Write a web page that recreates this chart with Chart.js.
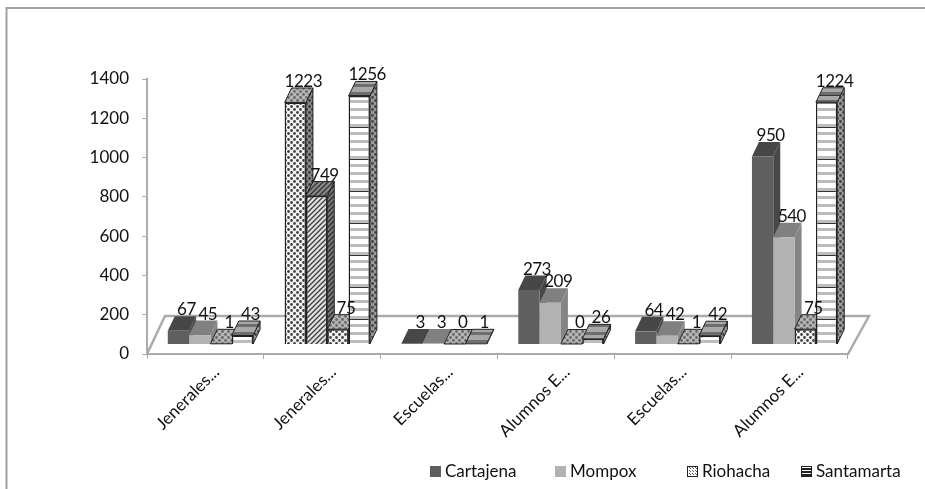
<!DOCTYPE html>
<html>
<head>
<meta charset="utf-8">
<title>Escuelas y alumnos</title>
<script src="https://cdn.jsdelivr.net/npm/chart.js@4"></script>
<style>
    html, body { margin: 0; padding: 0; background: #fff; }
    #wrap { position: relative; width: 925px; height: 489px; overflow: hidden; }
</style>
</head>
<body>
<div id="wrap"><canvas id="barChart" width="925" height="489"></canvas></div>
<script>
const categories = ['Jenerales...', 'Jenerales...', 'Escuelas...', 'Alumnos E...', 'Escuelas...', 'Alumnos E...'];
const seriesNames = ['Cartajena', 'Mompox', 'Riohacha', 'Santamarta'];
const cartajena = [67, 1223, 3, 273, 64, 950];
const mompox = [45, 749, 3, 209, 42, 540];
const riohacha = [1, 75, 0, 0, 1, 75];
const santamarta = [43, 1256, 1, 26, 42, 1224];
const yTicks = [0, 200, 400, 600, 800, 1000, 1200, 1400];

// which fill each bar uses, per series
const fillNames = [
    ['dark', 'dots', 'dark', 'dark', 'dark', 'dark'],
    ['light', 'hatch', 'light', 'light', 'light', 'light'],
    ['dots', 'dots', 'dots', 'dots', 'dots', 'dots'],
    ['stripes', 'stripes', 'stripes', 'stripes', 'stripes', 'stripes']
];

const FONT = 'Lato, "Open Sans", sans-serif';
const DEPTH_X = 7;
const DEPTH_Y = 14.5;
const BAR_SHIFT = 5;
const AXIS_GREY = '#ababab';
const LEGEND_BOX_X = [430, 555, 687, 801];
const LEGEND_Y = 472;

function makePattern(w, h, paint) {
    const c = document.createElement('canvas');
    c.width = w;
    c.height = h;
    paint(c.getContext('2d'));
    return c.getContext('2d').createPattern(c, 'repeat');
}

function dotPattern(bg, dot) {
    return makePattern(6, 6, g => {
        g.fillStyle = bg;
        g.fillRect(0, 0, 6, 6);
        g.fillStyle = dot;
        [[1.5, 1.5], [4.5, 4.5]].forEach(p => {
            g.beginPath();
            g.arc(p[0], p[1], 1.4, 0, Math.PI * 2);
            g.fill();
        });
    });
}

function hatchPattern(bg, line) {
    return makePattern(5, 5, g => {
        g.fillStyle = bg;
        g.fillRect(0, 0, 5, 5);
        g.strokeStyle = line;
        g.lineWidth = 1.3;
        g.beginPath();
        g.moveTo(-1, 6); g.lineTo(6, -1);
        g.moveTo(-1, 1); g.lineTo(1, -1);
        g.moveTo(4, 6); g.lineTo(6, 4);
        g.stroke();
    });
}

function stripePattern(bg, band, line) {
    return makePattern(4, 32, g => {
        g.fillStyle = bg;
        g.fillRect(0, 0, 4, 32);
        g.fillStyle = band;
        for (let y = 0; y < 32; y += 8) g.fillRect(0, y + 4, 4, 3);
        g.fillStyle = line;
        g.fillRect(0, 31, 4, 1);
    });
}

const fills = {
    dark: { front: '#5f5f5f', top: '#474747', side: '#474747', border: 0 },
    light: { front: '#b2b2b2', top: '#808080', side: '#858585', border: 0 },
    dots: {
        front: dotPattern('#f4f4f4', '#444444'),
        top: dotPattern('#b5b5b5', '#6a6a6a'),
        side: dotPattern('#8a8a8a', '#3a3a3a'),
        border: 1.5
    },
    hatch: {
        front: hatchPattern('#e2e2e2', '#3c3c3c'),
        top: hatchPattern('#8a8a8a', '#333333'),
        side: hatchPattern('#777777', '#2c2c2c'),
        border: 1.5
    },
    stripes: {
        front: stripePattern('#ffffff', '#bcbcbc', '#333333'),
        top: stripePattern('#a8a8a8', '#6e6e6e', '#333333'),
        side: dotPattern('#9a9a9a', '#444444'),
        border: 1.5
    }
};

// legend swatches are too small for the bar patterns
const legendSwatches = [
    '#5f5f5f',
    '#b2b2b2',
    makePattern(3, 3, g => {
        g.fillStyle = '#fff';
        g.fillRect(0, 0, 3, 3);
        g.fillStyle = '#555';
        g.fillRect(0, 0, 1, 1);
        g.fillRect(2, 2, 1, 1);
    }),
    makePattern(3, 3, g => {
        g.fillStyle = '#fff';
        g.fillRect(0, 0, 3, 3);
        g.fillStyle = '#222';
        g.fillRect(0, 0, 3, 2);
    })
];

function facePath(ctx, pts) {
    ctx.beginPath();
    ctx.moveTo(pts[0][0], pts[0][1]);
    pts.slice(1).forEach(p => ctx.lineTo(p[0], p[1]));
    ctx.closePath();
}

function drawFace(ctx, pts, fill, border) {
    facePath(ctx, pts);
    ctx.fillStyle = fill;
    ctx.fill();
    if (border) {
        ctx.lineWidth = 1;
        ctx.strokeStyle = '#222';
        ctx.stroke();
    }
}

// top and side faces behind one series of bars
function drawDepth(ctx, meta, datasetIndex) {
    meta.data.forEach((bar, i) => {
        const f = fills[fillNames[datasetIndex][i]];
        const l = bar.x - bar.width / 2;
        const r = bar.x + bar.width / 2;
        const t = bar.y;
        const b = bar.base;
        drawFace(ctx, [[r, t], [r + DEPTH_X, t - DEPTH_Y], [r + DEPTH_X, b - DEPTH_Y], [r, b]], f.side, f.border);
        drawFace(ctx, [[l, t], [l + DEPTH_X, t - DEPTH_Y], [r + DEPTH_X, t - DEPTH_Y], [r, t]], f.top, f.border);
    });
}

function drawLegend(ctx) {
    ctx.save();
    ctx.font = '17px ' + FONT;
    ctx.textAlign = 'left';
    ctx.textBaseline = 'middle';
    seriesNames.forEach((name, i) => {
        const x = LEGEND_BOX_X[i];
        ctx.fillStyle = legendSwatches[i];
        ctx.fillRect(x, LEGEND_Y - 6, 11, 11);
        if (i > 1) {
            ctx.strokeStyle = '#222';
            ctx.lineWidth = 1;
            ctx.strokeRect(x + 0.5, LEGEND_Y - 5.5, 10, 10);
        }
        ctx.fillStyle = '#111';
        ctx.fillText(name, x + 15, LEGEND_Y);
    });
    ctx.restore();
}

const bars3d = {
    id: 'bars3d',
    beforeDraw(chart) {
        const { ctx, width, height } = chart;
        ctx.save();
        ctx.strokeStyle = '#a0a0a0';
        ctx.lineWidth = 2;
        ctx.beginPath();
        ctx.moveTo(6.5, height);
        ctx.lineTo(6.5, 8);
        ctx.lineTo(width, 8);
        ctx.stroke();
        ctx.restore();
    },
    beforeDatasetsDraw(chart) {
        const { ctx, chartArea } = chart;
        const { left, right, bottom } = chartArea;

        // floor of the plot
        ctx.save();
        ctx.strokeStyle = AXIS_GREY;
        ctx.lineWidth = 2.5;
        ctx.beginPath();
        ctx.moveTo(left, bottom);
        ctx.lineTo(left + 18, bottom - 38);
        ctx.lineTo(right + 21, bottom - 38);
        ctx.lineTo(right, bottom);
        ctx.stroke();
        ctx.restore();

        // series are painted left to right so that each front covers the side before it
        ctx.save();
        ctx.translate(BAR_SHIFT, 0);
        chart.data.datasets.forEach((ds, i) => {
            const meta = chart.getDatasetMeta(i);
            drawDepth(ctx, meta, i);
            meta.controller.draw();
        });
        ctx.restore();

        // value labels
        ctx.save();
        ctx.font = '17px ' + FONT;
        ctx.letterSpacing = '-0.5px';
        ctx.fillStyle = '#111';
        ctx.textAlign = 'center';
        ctx.textBaseline = 'middle';
        chart.data.datasets.forEach((ds, i) => {
            chart.getDatasetMeta(i).data.forEach((bar, j) => {
                ctx.fillText(ds.data[j], bar.x + BAR_SHIFT + 8, bar.y - 21);
            });
        });
        ctx.restore();

        drawLegend(ctx);
        return false;
    }
};

function makeDataset(name, values, index) {
    const names = fillNames[index];
    return {
        label: name,
        data: values,
        yAxisID: 'yBars',
        backgroundColor: names.map(n => fills[n].front),
        borderColor: '#222222',
        borderWidth: names.map(n => fills[n].border)
    };
}

new Chart(document.getElementById('barChart'), {
    type: 'bar',
    plugins: [bars3d],
    data: {
        labels: categories,
        datasets: [
            makeDataset(seriesNames[0], cartajena, 0),
            makeDataset(seriesNames[1], mompox, 1),
            makeDataset(seriesNames[2], riohacha, 2),
            makeDataset(seriesNames[3], santamarta, 3)
        ]
    },
    options: {
        responsive: false,
        animation: false,
        layout: { padding: { top: 79, right: 77 } },
        datasets: { bar: { categoryPercentage: 0.73, barPercentage: 1 } },
        plugins: {
            tooltip: { enabled: false },
            legend: { display: false }
        },
        scales: {
            x: {
                afterFit(scale) {
                    scale.height = 135;
                },
                grid: { drawOnChartArea: false, drawTicks: true, tickLength: 5, color: AXIS_GREY },
                border: { color: AXIS_GREY, width: 2 },
                ticks: {
                    minRotation: 45,
                    maxRotation: 45,
                    autoSkip: false,
                    labelOffset: 11,
                    color: '#111',
                    font: { family: FONT, size: 17 }
                }
            },
            y: {
                min: 0,
                max: 1400,
                afterFit(scale) {
                    scale.width = 147;
                },
                afterBuildTicks(scale) {
                    scale.ticks = yTicks.map(v => ({ value: v }));
                },
                grid: { drawOnChartArea: false, drawTicks: true, tickLength: 5, color: AXIS_GREY },
                border: { color: AXIS_GREY, width: 2 },
                ticks: {
                    padding: 13,
                    color: '#111',
                    font: { family: FONT, size: 17 },
                    callback: v => String(v)
                }
            },
            // bars stand on the floor, a little above the printed zero
            yBars: {
                display: false,
                min: -50.6,
                max: 1341.8
            }
        }
    }
});
</script>
</body>
</html>
